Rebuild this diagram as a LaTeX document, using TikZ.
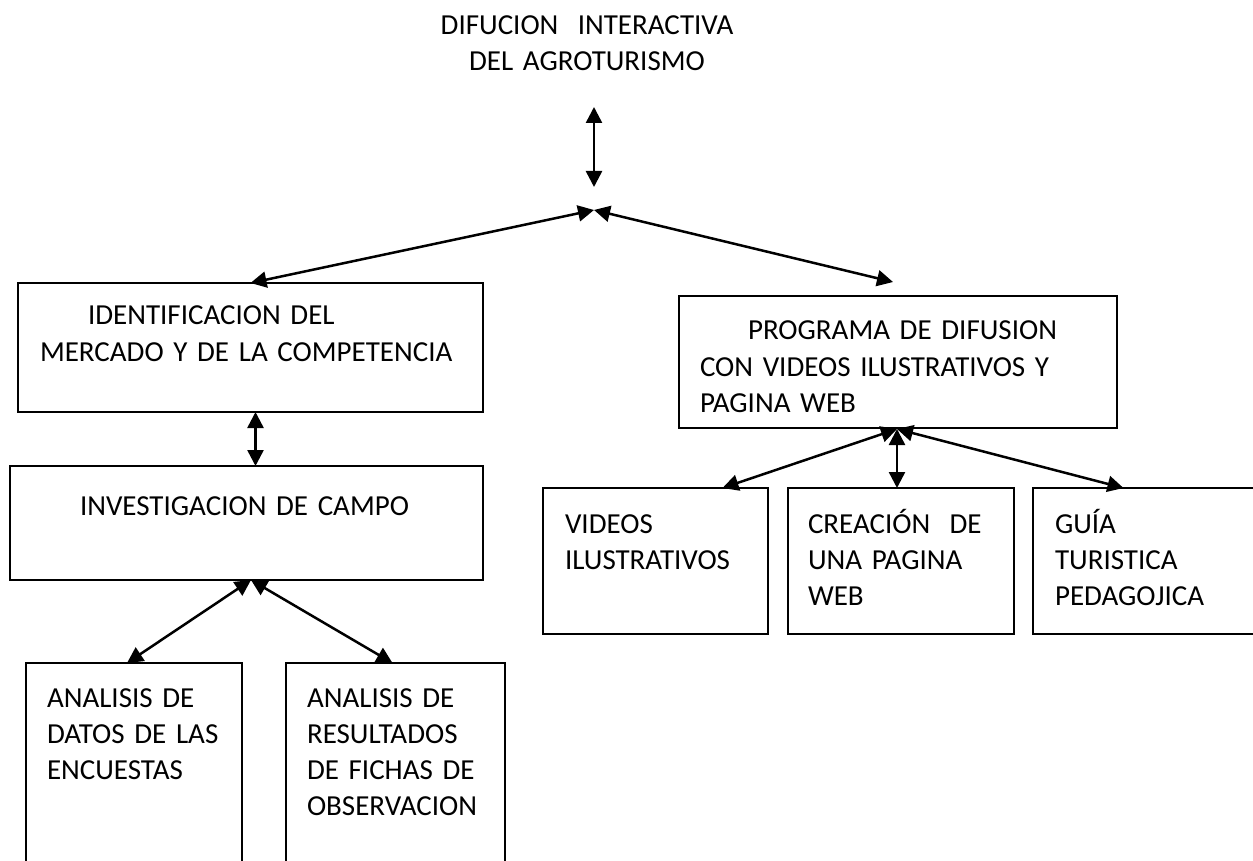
\documentclass[tikz,border=0pt]{standalone}
\usepackage{fontspec}
\setmainfont{Carlito}[WordSpace=0.8]
\usetikzlibrary{arrows.meta,fit,calc}

\begin{document}
\begin{tikzpicture}[x=0.5pt,y=-0.5pt,line cap=rect]
\definecolor{custcol_0_0_0}{RGB}{0, 0, 0}
\tikzset{
  caja/.style={draw=custcol_0_0_0, line width=1.0pt, inner sep=0, outer sep=0},
  flecha/.style={line width=1.25pt, custcol_0_0_0,
    {Triangle[length=8pt,width=8pt]}-{Triangle[length=8pt,width=8pt]}},
  texto/.style={inner sep=0, outer sep=0, anchor=base west, text width=220pt,
    align=left, custcol_0_0_0, font=\fontsize{14.5pt}{18pt}\selectfont}
}
\useasboundingbox (0,0) rectangle (1253,861);
% titulo
\node[texto, anchor=base, align=center] (titulo) at (587,35)
  {DIFUCION\ \ INTERACTIVA\\DEL AGROTURISMO};
\coordinate (fArriba) at (594,107);
\coordinate (fAbajo) at (594,187);
\coordinate (jSup) at (594,210);
\coordinate (pDer) at (893,282);
\coordinate (jInv) at (251,580);
\coordinate (jProg) at (897,429);
% cajas
\node[caja, fit={(18,283) (483,412)}] (ident) {};
\node[caja, fit={(10,466) (483,580)}] (invest) {};
\node[caja, fit={(26,663) (242,875)}] (datos) {};
\node[caja, fit={(286,663) (505,875)}] (fichas) {};
\node[caja, fit={(679,296) (1117,428)}] (prog) {};
\node[caja, fit={(543,488) (768,634)}] (videos) {};
\node[caja, fit={(788,488) (1014,634)}] (crea) {};
\node[caja, fit={(1033,488) (1262,634)}] (guia) {};
% textos
\node[texto] (tIdent) at (40,325) {\hspace*{24pt}IDENTIFICACION DEL\\MERCADO Y DE LA COMPETENCIA};
\node[texto] (tInvest) at (80,515) {INVESTIGACION DE CAMPO};
\node[texto] (tDatos) at (47,707) {ANALISIS DE\\DATOS DE LAS\\ENCUESTAS};
\node[texto] (tFichas) at (307,707) {ANALISIS DE\\RESULTADOS\\DE FICHAS DE\\OBSERVACION};
\node[texto] (tProg) at (700,340) {\hspace*{24pt}PROGRAMA DE DIFUSION\\CON VIDEOS ILUSTRATIVOS Y\\PAGINA WEB};
\node[texto] (tVideos) at (565,533) {VIDEOS\\ILUSTRATIVOS};
\node[texto] (tCrea) at (808,533) {CREACIÓN\ \ DE\\UNA PAGINA\\WEB};
\node[texto] (tGuia) at (1055,533) {GUÍA\\TURISTICA\\PEDAGOJICA};
% flechas
\draw[flecha] (fArriba) -- (fAbajo);
\draw[flecha] (jSup) -- (ident.north);
\draw[flecha] (jSup) -- (pDer);
\draw[flecha] ($(ident.south)+(5,0)$) -- ($(ident.south |- invest.north)+(5,0)$);
\draw[flecha] (jInv) -- ($(datos.north)+(-7,0)$);
\draw[flecha] (jInv) -- ($(fichas.north)+(-3,0)$);
\draw[flecha] (jProg) -- ($(videos.north)+(67,0)$);
\draw[flecha] (jProg) -- (jProg |- crea.north);
\draw[flecha] (jProg) -- ($(guia.north)+(-24,0)$);
\end{tikzpicture}
\end{document}
